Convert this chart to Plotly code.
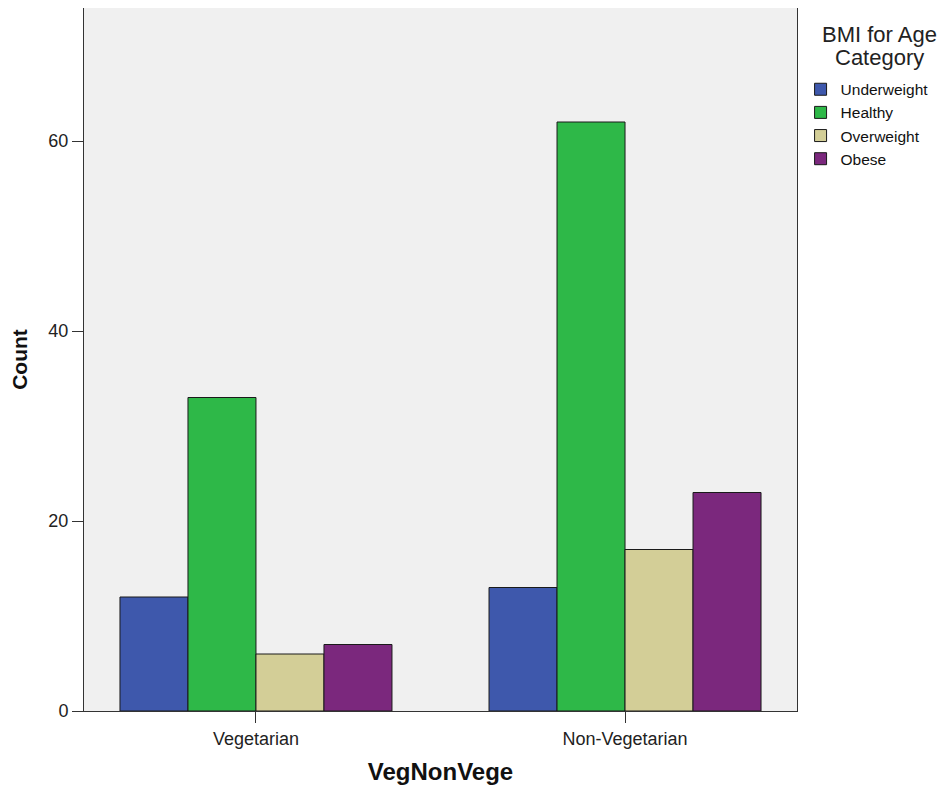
import plotly.graph_objects as go

categories = ["Vegetarian", "Non-Vegetarian"]
series_names = ["Underweight", "Healthy", "Overweight", "Obese"]
underweight = [12, 13]
healthy = [33, 62]
overweight = [6, 17]
obese = [7, 23]
colors = ["#3E58AC", "#2EB848", "#D3CE97", "#7B287D"]
y_ticks = [0, 20, 40, 60]
legend_title_lines = ["BMI for Age", "Category"]

fig = go.Figure()
for name, vals, col in zip(series_names, [underweight, healthy, overweight, obese], colors):
    fig.add_trace(go.Bar(
        name=name, x=categories, y=vals,
        marker=dict(color=col, line=dict(color="#1a1a1a", width=1)),
    ))

for line, ypos in zip(legend_title_lines, [0.9616, 0.9289]):
    fig.add_annotation(
        text=line, xref="paper", yref="paper", x=1.1164, y=ypos,
        xanchor="center", yanchor="middle", showarrow=False,
        font=dict(size=22, color="#222222"),
    )

fig.update_layout(
    width=942, height=784,
    margin=dict(l=76, r=153, t=0, b=81),
    paper_bgcolor="white", plot_bgcolor="#F0F0F0",
    barmode="group", bargap=0.263, bargroupgap=0,
    font=dict(family="Liberation Sans, Arial, sans-serif", color="#222222", size=17),
    legend=dict(
        x=1.005, xanchor="left", y=0.908, yanchor="top",
        font=dict(size=15.5, color="#111111"),
        itemwidth=30, tracegroupgap=0,
        bgcolor="rgba(0,0,0,0)",
    ),
    showlegend=True,
)
fig.update_xaxes(
    type="category", range=[-0.466, 1.466],
    showline=True, linecolor="#333333", linewidth=1, mirror=True,
    ticks="outside", ticklen=11, tickcolor="#333333",
    tickfont=dict(size=18, color="#222222"),
    title=dict(text="<b>VegNonVege</b>", font=dict(size=24, color="#111111"), standoff=15),
    showgrid=False,
)
fig.update_yaxes(
    range=[0, 74], tickvals=y_ticks,
    showline=True, linecolor="#333333", linewidth=1, mirror=True,
    ticks="outside", ticklen=11, tickcolor="#333333",
    tickfont=dict(size=18, color="#222222"),
    title=dict(text="<b>Count</b>", font=dict(size=21, color="#111111"), standoff=16),
    showgrid=False, zeroline=False,
)

fig.write_html("out.html")
